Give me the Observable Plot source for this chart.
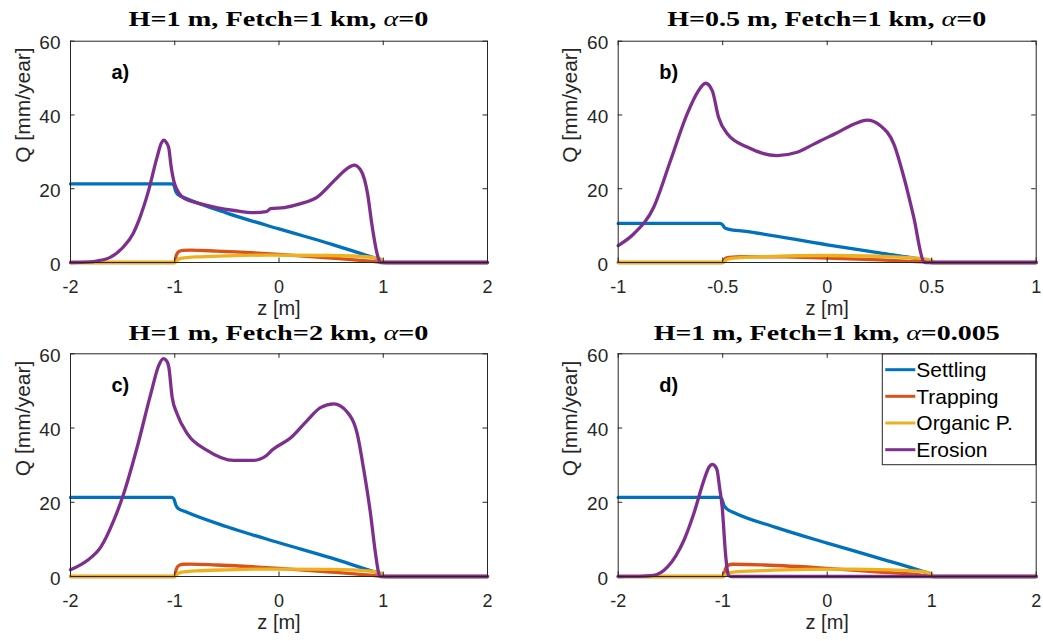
<!DOCTYPE html>
<html><head><meta charset="utf-8">
<script src="https://cdn.jsdelivr.net/npm/d3@7"></script>
<script src="https://cdn.jsdelivr.net/npm/@observablehq/plot@0.6"></script>
<style>
body{margin:0;background:#fff;}
#wrap{position:relative;width:1043px;height:641px;overflow:hidden;background:#fff;}
#wrap svg{position:absolute;}
</style></head><body><div id="wrap"></div>
<script>
// ---------- labels & categories ----------
const seriesNames = ["Settling", "Trapping", "Organic P.", "Erosion"];
const seriesColors = ["#0072BD", "#D95319", "#EDB120", "#7E2F8E"];
const panelLetters = ["a)", "b)", "c)", "d)"];
const panelTitles = ["H=1 m, Fetch=1 km, α=0", "H=0.5 m, Fetch=1 km, α=0", "H=1 m, Fetch=2 km, α=0", "H=1 m, Fetch=1 km, α=0.005"];
const xTicksWide = [-2, -1, 0, 1, 2];
const xTicksNarrow = [-1, -0.5, 0, 0.5, 1];
const yTicks = [0, 20, 40, 60];
const xLabel = "z [m]";
const yLabel = "Q [mm/year]";

// ---------- panel a: H=1 m, Fetch=1 km, alpha=0 ----------
const settlingA = [[-2,21.3],[-1.03,21.3],[-1.01,21.0],[-0.99,19.3],[-0.97,18.4],[-0.9,17.5],[-0.5,13.4],[0,9.1],[0.5,5.0],[0.9,1.4],[0.97,0.8],[1.0,0.3],[1.02,0],[2,0]];
const trappingA = [[-2,0],[-1.0,0],[-0.985,2.0],[-0.96,3.0],[-0.92,3.3],[-0.85,3.35],[-0.6,3.1],[0,2.2],[0.5,1.2],[0.9,0.3],[1.0,0],[2,0]];
const organicA = [[-2,0],[-1.0,0],[-0.97,0.8],[-0.93,1.2],[-0.8,1.5],[-0.5,1.8],[-0.1,2.0],[0.5,1.9],[0.9,1.4],[0.97,1.0],[1.0,0.4],[1.02,0],[2,0]];
const erosionA = [[-2,0],[-1.85,0.1],[-1.75,0.4],[-1.62,1.4],[-1.5,4],[-1.4,7.8],[-1.33,12.5],[-1.26,18.6],[-1.17,28.5],[-1.13,32.3],[-1.105,33.2],[-1.08,32.5],[-1.057,31],[-1.035,26],[-1.01,22.2],[-0.98,19.8],[-0.93,17.8],[-0.85,16.7],[-0.75,15.9],[-0.6,14.9],[-0.43,14.1],[-0.24,13.5],[-0.12,13.8],[-0.08,14.6],[0.05,14.9],[0.2,15.9],[0.37,17.8],[0.53,22.2],[0.65,25.4],[0.72,26.4],[0.78,25.2],[0.82,22.5],[0.85,18.6],[0.89,10.5],[0.93,3.8],[0.96,0.6],[0.975,0],[2,0]];

// ---------- panel b: H=0.5 m, Fetch=1 km, alpha=0 ----------
const settlingB = [[-1,10.6],[-0.515,10.6],[-0.5,10.2],[-0.49,9.4],[-0.47,9.0],[-0.4,8.5],[0,4.8],[0.25,2.6],[0.45,0.8],[0.49,0.3],[0.5,0],[1,0]];
const trappingB = [[-1,0],[-0.5,0],[-0.49,1.0],[-0.47,1.4],[-0.4,1.6],[-0.2,1.5],[0,1.2],[0.25,0.7],[0.45,0.15],[0.5,0],[1,0]];
const organicB = [[-1,0],[-0.5,0],[-0.48,0.8],[-0.45,1.2],[-0.3,1.6],[0,1.9],[0.25,1.7],[0.45,1.1],[0.5,0.5],[0.52,0],[1,0]];
const erosionB = [[-1,4.6],[-0.925,7.8],[-0.83,15],[-0.75,27.6],[-0.67,40.3],[-0.62,46.2],[-0.582,48.6],[-0.55,46.6],[-0.52,39.4],[-0.478,34.9],[-0.383,31.3],[-0.24,29.0],[-0.144,29.9],[-0.064,32.1],[-0.032,33.0],[0.048,35.2],[0.127,37.5],[0.191,38.6],[0.255,37.1],[0.319,32.1],[0.367,23.1],[0.414,12.3],[0.462,0.2],[0.47,0],[1,0]];

// ---------- panel c: H=1 m, Fetch=2 km, alpha=0 ----------
const settlingC = [[-2,21.3],[-1.03,21.3],[-1.01,21.0],[-0.99,19.3],[-0.97,18.4],[-0.9,17.5],[-0.5,13.4],[0,9.1],[0.5,5.0],[0.9,1.4],[0.97,0.8],[1.0,0.3],[1.02,0],[2,0]];
const trappingC = [[-2,0],[-1.0,0],[-0.985,2.0],[-0.96,3.0],[-0.92,3.3],[-0.85,3.35],[-0.6,3.1],[0,2.2],[0.5,1.2],[0.9,0.3],[1.0,0],[2,0]];
const organicC = [[-2,0],[-1.0,0],[-0.97,0.8],[-0.93,1.2],[-0.8,1.5],[-0.5,1.8],[-0.1,2.0],[0.5,1.9],[0.9,1.4],[0.97,1.0],[1.0,0.4],[1.02,0],[2,0]];
const erosionC = [[-2,1.8],[-1.84,4.3],[-1.71,7.9],[-1.585,15.1],[-1.49,22.3],[-1.36,34.9],[-1.23,49.2],[-1.153,56.9],[-1.11,58.7],[-1.075,58],[-1.057,56.4],[-1.025,48.3],[-0.977,43.8],[-0.88,38.5],[-0.69,34.0],[-0.434,31.3],[-0.24,31.3],[-0.12,32.6],[-0.06,34.2],[0.11,37.3],[0.27,42.0],[0.398,45.5],[0.526,46.5],[0.654,44.3],[0.75,38.5],[0.814,28.6],[0.878,16.9],[0.926,6.1],[0.96,0.5],[0.97,0],[2,0]];

// ---------- panel d: H=1 m, Fetch=1 km, alpha=0.005 ----------
const settlingD = [[-2,21.3],[-1.03,21.3],[-1.01,21.0],[-0.99,19.3],[-0.96,18.2],[-0.9,17.3],[-0.5,13.3],[0,9.0],[0.5,4.9],[0.9,1.5],[1.0,0.5],[1.02,0],[2,0]];
const trappingD = [[-2,0],[-0.99,0],[-0.975,2.0],[-0.95,3.0],[-0.9,3.3],[-0.6,3.1],[0,2.2],[0.5,1.2],[0.9,0.4],[1.0,0],[2,0]];
const organicD = [[-2,0],[-0.99,0],[-0.96,0.8],[-0.9,1.2],[-0.6,1.6],[-0.2,1.9],[0.2,2.0],[0.6,1.8],[0.9,1.4],[1.0,0.6],[1.02,0],[2,0]];
const erosionD = [[-2,0],[-1.8,0.05],[-1.66,0.3],[-1.53,2.5],[-1.45,5.5],[-1.372,9.7],[-1.277,16.9],[-1.18,25.9],[-1.13,29.5],[-1.1,30.2],[-1.075,29.8],[-1.053,28.6],[-1.03,24],[-1.005,18.7],[-0.973,6.1],[-0.955,1.5],[-0.94,0.2],[-0.92,0],[2,0]];

// ---------- drawing ----------
const AX = "#262626";
const SANS = "'Liberation Sans', Arial, sans-serif";
const wrap = document.getElementById("wrap");

function makePanel(cfg) {
  const {left, top, width, height, ml, mr, mt, mb, xDomain, xTicks, series, letter, title, titleWidth, titleBase, legend} = cfg;
  const fw = width - ml - mr, fh = height - mt - mb;
  const tk = 4.5;
  const marks = [
    ...series.map((pts, i) => Plot.line(pts, {x: d => d[0], y: d => d[1], stroke: seriesColors[i], strokeWidth: 3.3, curve: "monotone-x"})),
    Plot.frame({stroke: AX, strokeWidth: 1}),
    Plot.tickX(xTicks, {x: d => d, insetTop: fh - tk, stroke: AX}),
    Plot.tickX(xTicks, {x: d => d, insetBottom: fh - tk, stroke: AX}),
    Plot.tickY(yTicks, {y: d => d, insetRight: fw - tk, stroke: AX}),
    Plot.tickY(yTicks, {y: d => d, insetLeft: fw - tk, stroke: AX}),
    Plot.axisX(xTicks, {tickSize: 0, tickPadding: 18, tickFormat: d => String(d), fontSize: 18, label: null, fill: AX}),
    Plot.axisY(yTicks, {tickSize: 0, tickPadding: 10, dy: 2, tickFormat: d => String(d), fontSize: 19, label: null, fill: AX}),
    Plot.text([xLabel], {frameAnchor: "bottom", dy: 52.5, fontSize: 20, fill: AX, text: d => d}),
    Plot.text([yLabel], {frameAnchor: "left", rotate: -90, dx: -47.5, dy: 11, fontSize: 21, fill: AX, text: d => d}),
    Plot.text([letter], {frameAnchor: "top-left", textAnchor: "start", dx: 41, dy: 24, fontSize: 20, fontWeight: "bold", fill: "#000", text: d => d})
  ];
  const svg = Plot.plot({
    width, height, marginLeft: ml, marginRight: mr, marginTop: mt, marginBottom: mb,
    x: {domain: xDomain, axis: null},
    y: {domain: [0, 60], axis: null},
    style: {fontFamily: SANS, color: AX, background: "transparent", overflow: "visible"},
    marks
  });
  svg.style.left = left + "px";
  svg.style.top = top + "px";
  const s = d3.select(svg);
  // title (LaTeX-like: bold serif with italic alpha)
  const parts = title.split("α");
  const t = s.append("text")
    .attr("x", ml + fw / 2).attr("y", titleBase)
    .attr("text-anchor", "middle")
    .attr("font-family", "'Liberation Serif', 'DejaVu Serif', serif")
    .attr("font-size", 20).attr("font-weight", "bold").attr("fill", "#000")
    .attr("textLength", titleWidth).attr("lengthAdjust", "spacingAndGlyphs");
  t.append("tspan").text(parts[0]);
  t.append("tspan").attr("font-style", "italic").attr("font-weight", "normal").text("α");
  t.append("tspan").text(parts[1]);
  if (legend) {
    const lx = legend.x, ly = legend.y;
    const g = s.append("g").attr("text-anchor", "start");
    g.append("rect").attr("x", lx).attr("y", ly).attr("width", legend.w).attr("height", legend.h)
      .attr("fill", "#fff").attr("stroke", AX).attr("stroke-width", 1);
    seriesNames.forEach((name, i) => {
      const yy = legend.rows[i];
      g.append("line").attr("x1", lx + 3).attr("x2", lx + 33).attr("y1", yy).attr("y2", yy)
        .attr("stroke", seriesColors[i]).attr("stroke-width", 3);
      g.append("text").attr("x", lx + 34).attr("y", yy).attr("dy", "0.35em")
        .attr("text-anchor", "start")
        .attr("font-family", SANS).attr("font-size", 21)
        .attr("fill", "#000").text(name);
    });
  }
  wrap.appendChild(svg);
}

makePanel({left: 0, top: 0, width: 520, height: 320, ml: 70, mr: 33, mt: 40.7, mb: 58,
  xDomain: [-2, 2], xTicks: xTicksWide, series: [settlingA, trappingA, organicA, erosionA],
  letter: panelLetters[0], title: panelTitles[0], titleWidth: 300, titleBase: 26});
makePanel({left: 520, top: 0, width: 523, height: 320, ml: 97.7, mr: 7.3, mt: 40.7, mb: 58,
  xDomain: [-1, 1], xTicks: xTicksNarrow, series: [settlingB, trappingB, organicB, erosionB],
  letter: panelLetters[1], title: panelTitles[1], titleWidth: 319, titleBase: 26});
makePanel({left: 0, top: 320, width: 520, height: 321, ml: 70, mr: 33, mt: 33.3, mb: 65,
  xDomain: [-2, 2], xTicks: xTicksWide, series: [settlingC, trappingC, organicC, erosionC],
  letter: panelLetters[2], title: panelTitles[2], titleWidth: 300, titleBase: 19.5});
makePanel({left: 520, top: 320, width: 523, height: 321, ml: 97.7, mr: 7.3, mt: 33.3, mb: 65,
  xDomain: [-2, 2], xTicks: xTicksWide, series: [settlingD, trappingD, organicD, erosionD],
  letter: panelLetters[3], title: panelTitles[3], titleWidth: 346, titleBase: 19.5,
  legend: {x: 362.3, y: 34, w: 153.4, h: 110.7, rows: [49.7, 76.3, 103, 129.7]}});
</script>
</body></html>
